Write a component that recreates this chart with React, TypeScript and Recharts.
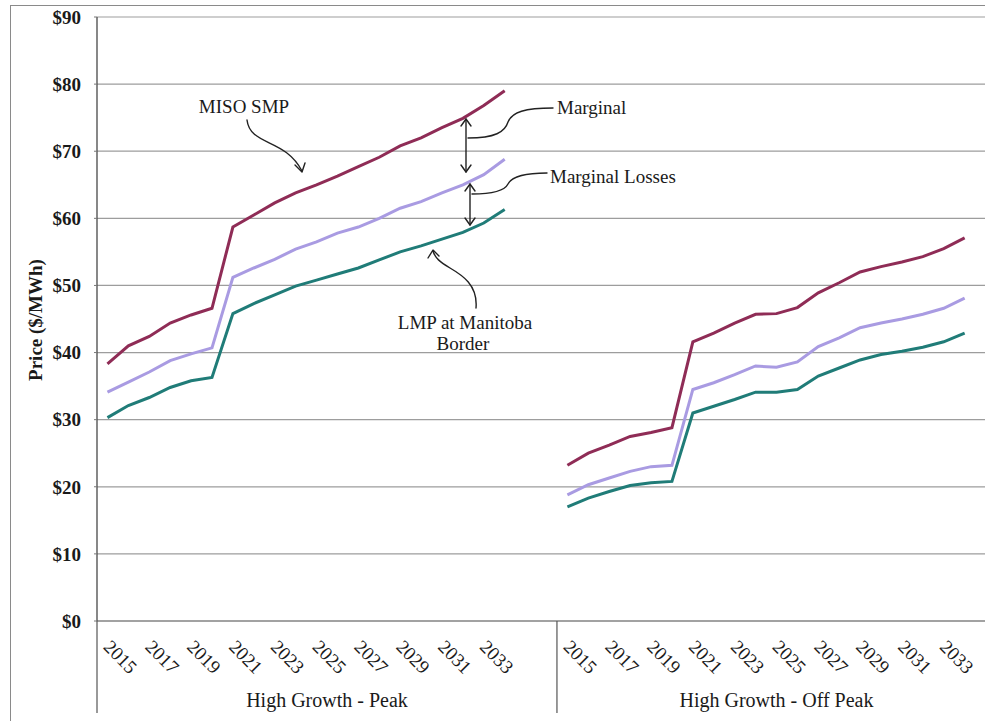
import React from "react";
import { LineChart, Line, XAxis, YAxis, CartesianGrid } from "recharts";

// ---- data ----
const years = [2015, 2016, 2017, 2018, 2019, 2020, 2021, 2022, 2023, 2024, 2025, 2026, 2027, 2028, 2029, 2030, 2031, 2032, 2033, 2034];
const groupLabels = ["High Growth - Peak", "High Growth - Off Peak"];
const peakSmp = [38.3, 41.0, 42.4, 44.4, 45.6, 46.6, 58.7, 60.5, 62.3, 63.8, 65.0, 66.3, 67.7, 69.1, 70.8, 72.0, 73.5, 74.9, 76.8, 79.0];
const peakLosses = [34.1, 35.6, 37.1, 38.8, 39.8, 40.7, 51.2, 52.6, 53.9, 55.4, 56.5, 57.8, 58.7, 60.0, 61.5, 62.5, 63.8, 65.0, 66.5, 68.8];
const peakLmp = [30.3, 32.1, 33.3, 34.8, 35.8, 36.3, 45.8, 47.3, 48.6, 49.9, 50.8, 51.7, 52.6, 53.8, 55.0, 55.9, 56.9, 57.9, 59.3, 61.3];
const offSmp = [23.2, 25.0, 26.2, 27.5, 28.1, 28.8, 41.6, 42.9, 44.4, 45.7, 45.8, 46.7, 48.9, 50.4, 52.0, 52.8, 53.5, 54.3, 55.5, 57.1];
const offLosses = [18.8, 20.3, 21.3, 22.3, 23.0, 23.2, 34.5, 35.5, 36.7, 38.0, 37.8, 38.6, 40.9, 42.2, 43.7, 44.4, 45.0, 45.7, 46.6, 48.1];
const offLmp = [17.0, 18.3, 19.3, 20.2, 20.6, 20.8, 31.0, 32.0, 33.0, 34.1, 34.1, 34.5, 36.5, 37.7, 38.9, 39.7, 40.2, 40.8, 41.6, 42.9];
const yTicks = [0, 10, 20, 30, 40, 50, 60, 70, 80, 90];

// ---- table built from the arrays ----
type Row = { key: string; idx: number; year: number | null; smp: number | null; losses: number | null; lmp: number | null };
const rows: Row[] = [];
const pushGroup = (prefix: string, smp: number[], losses: number[], lmp: number[], gaps: number) => {
  years.forEach((yr, i) => rows.push({ key: `${prefix}-${yr}`, idx: rows.length, year: yr, smp: smp[i], losses: losses[i], lmp: lmp[i] }));
  for (let g = 0; g < gaps; g++) rows.push({ key: `${prefix}-gap${g}`, idx: rows.length, year: null, smp: null, losses: null, lmp: null });
};
pushGroup("peak", peakSmp, peakLosses, peakLmp, 2);
pushGroup("off", offSmp, offLosses, offLmp, 1);
const rowByKey: Record<string, Row> = {};
rows.forEach((r) => (rowByKey[r.key] = r));
const RIGHT_START = years.length + 2;

// ---- layout ----
const CHART_W = 1010;
const CHART_H = 721;
const Y_AXIS_W = 97;
const M_RIGHT = 14;
const M_TOP = 17;
const X_AXIS_H = 100;
const CAT_W = (CHART_W - Y_AXIS_W - M_RIGHT) / rows.length;
const SERIF = "'Liberation Serif', 'Times New Roman', serif";
const INK = "#1a1a1a";
const C_SMP = "#8f2c56";
const C_LOSS = "#a99be2";
const C_LMP = "#207c78";

const XTick = (props: any) => {
  const { x, y, payload } = props;
  const row = rowByKey[payload.value];
  if (!row) return null;
  const parts: React.ReactNode[] = [];
  if (row.year !== null && (row.year - years[0]) % 2 === 0) {
    const tx = x - 5;
    const ty = y + 27;
    parts.push(
      <text key="t" x={tx} y={ty} transform={`rotate(45, ${tx}, ${ty})`} fontSize={19} fontFamily={SERIF} fill={INK}>
        {row.year}
      </text>
    );
  }
  if (row.idx === 0 || row.idx === RIGHT_START) {
    parts.push(<line key="l" x1={x - CAT_W / 2} x2={x - CAT_W / 2} y1={y} y2={y + 92} stroke="#555" strokeWidth={1.2} />);
  }
  if (row.idx === 10) {
    parts.push(
      <text key="g" x={x + CAT_W / 2} y={y + 86} textAnchor="middle" fontSize={20} fontFamily={SERIF} fill={INK}>
        {groupLabels[0]}
      </text>
    );
  }
  if (row.idx === RIGHT_START + 10) {
    parts.push(
      <text key="g" x={x} y={y + 86} textAnchor="middle" fontSize={20} fontFamily={SERIF} fill={INK}>
        {groupLabels[1]}
      </text>
    );
  }
  return <g>{parts}</g>;
};

const Arrow = ({ d, heads }: { d: string; heads: string[] }) => (
  <g fill="none" stroke="#222" strokeWidth={1.4} strokeLinecap="round" strokeLinejoin="round">
    <path d={d} />
    {heads.map((h, i) => (
      <path key={i} d={h} />
    ))}
  </g>
);

export default function App() {
  return (
    <div style={{ position: "fixed", left: 0, top: 0, width: 985, height: 721, overflow: "hidden", background: "#fff" }}>
      <div style={{ position: "absolute", left: 10, top: 5, width: 1100, height: 800, borderLeft: "1.5px solid #8a8a8a", borderTop: "1.5px solid #8a8a8a" }} />
      <div style={{ position: "absolute", left: 0, top: 0 }}>
        <LineChart width={CHART_W} height={CHART_H} data={rows} margin={{ top: M_TOP, right: M_RIGHT, left: 0, bottom: 0 }}>
          <CartesianGrid vertical={false} stroke="#9d9d9d" strokeWidth={1.2} />
          <XAxis
            dataKey="key"
            interval={0}
            height={X_AXIS_H}
            padding={{ left: CAT_W / 2, right: CAT_W / 2 }}
            tickSize={0}
            tickMargin={0}
            tickLine={false}
            axisLine={{ stroke: "#777", strokeWidth: 1.2 }}
            tick={<XTick />}
          />
          <YAxis
            width={Y_AXIS_W}
            domain={[0, 90]}
            ticks={yTicks}
            interval={0}
            tickFormatter={(v: number) => `$${v}`}
            tickSize={3}
            tickMargin={13}
            tickLine={{ stroke: "#777" }}
            axisLine={{ stroke: "#555", strokeWidth: 1.4 }}
            tick={{ fontSize: 19, fontWeight: 700, fontFamily: SERIF, fill: INK }}
          />
          <Line dataKey="smp" stroke={C_SMP} strokeWidth={3} dot={false} isAnimationActive={false} connectNulls={false} />
          <Line dataKey="losses" stroke={C_LOSS} strokeWidth={3} dot={false} isAnimationActive={false} connectNulls={false} />
          <Line dataKey="lmp" stroke={C_LMP} strokeWidth={3} dot={false} isAnimationActive={false} connectNulls={false} />
        </LineChart>
      </div>
      <svg width={985} height={721} style={{ position: "absolute", left: 0, top: 0, pointerEvents: "none" }}>
        <text x={35} y={320} transform="rotate(-90, 35, 320)" textAnchor="middle" dominantBaseline="central" fontSize={19} fontWeight={700} fontFamily={SERIF} fill={INK}>
          Price ($/MWh)
        </text>
        <g fontSize={19} fontFamily={SERIF} fill={INK}>
          <text x={244} y={113} textAnchor="middle">MISO SMP</text>
          <text x={557} y={114}>Marginal</text>
          <text x={550} y={183}>Marginal Losses</text>
          <text x={465} y={329} textAnchor="middle">LMP at Manitoba</text>
          <text x={463} y={350} textAnchor="middle">Border</text>
        </g>
        <Arrow d="M247,120 C250,146 285,138 302,171" heads={["M295,165 L302,172 L305,163"]} />
        <Arrow d="M466,119 L466,172" heads={["M461,126 L466,119 L471,126", "M461,165 L466,172 L471,165"]} />
        <Arrow d="M468,138 C495,138 505,132 508,122 C512,112 525,108 553,108" heads={[]} />
        <Arrow d="M470,184 L470,225" heads={["M465,191 L470,184 L475,191", "M465,218 L470,225 L475,218"]} />
        <Arrow d="M472,194 C495,194 505,190 508,184 C512,176 525,173 547,173" heads={[]} />
        <Arrow d="M476,308 C478,285 462,275 450,268 C440,262 435,258 433,251" heads={["M428,258 L433,250 L439,256"]} />
      </svg>
    </div>
  );
}
